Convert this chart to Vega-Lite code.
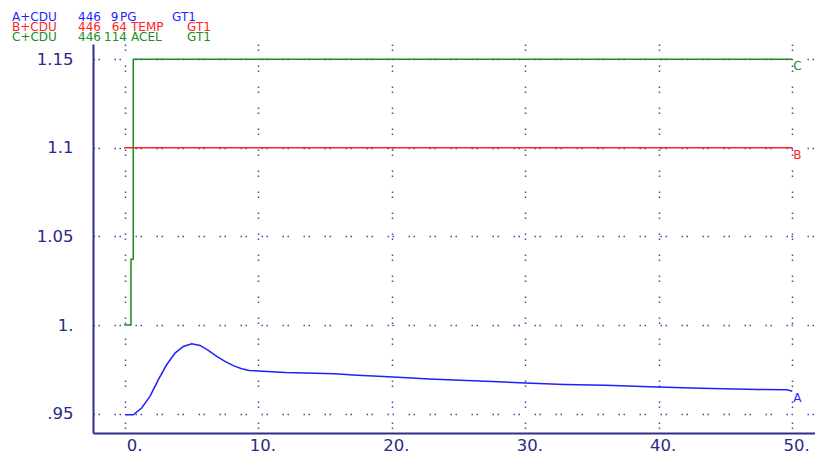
{
  "$schema": "https://vega.github.io/schema/vega-lite/v6.json",
  "width": 722,
  "height": 389,
  "autosize": {"type": "none"},
  "padding": {"left": 93, "top": 44, "right": 0, "bottom": 22},
  "background": "white",
  "config": {"view": {"stroke": null}, "font": "DejaVu Sans", "text": {"font": "DejaVu Sans"}},
  "datasets": {
    "series": [
      {"series": "A", "i": 0, "x": 0, "y": 0.9494},
      {"series": "A", "i": 1, "x": 0.62, "y": 0.9494},
      {"series": "A", "i": 2, "x": 1.25, "y": 0.9532},
      {"series": "A", "i": 3, "x": 1.87, "y": 0.9598},
      {"series": "A", "i": 4, "x": 2.5, "y": 0.9692},
      {"series": "A", "i": 5, "x": 3.12, "y": 0.9776},
      {"series": "A", "i": 6, "x": 3.75, "y": 0.9842},
      {"series": "A", "i": 7, "x": 4.37, "y": 0.9879},
      {"series": "A", "i": 8, "x": 5.0, "y": 0.9895},
      {"series": "A", "i": 9, "x": 5.62, "y": 0.9885},
      {"series": "A", "i": 10, "x": 6.24, "y": 0.9857},
      {"series": "A", "i": 11, "x": 6.87, "y": 0.9823},
      {"series": "A", "i": 12, "x": 7.49, "y": 0.9795},
      {"series": "A", "i": 13, "x": 8.11, "y": 0.9771},
      {"series": "A", "i": 14, "x": 8.74, "y": 0.9754},
      {"series": "A", "i": 15, "x": 9.3, "y": 0.9744},
      {"series": "A", "i": 16, "x": 12, "y": 0.9733},
      {"series": "A", "i": 17, "x": 15.7, "y": 0.9725},
      {"series": "A", "i": 18, "x": 17.4, "y": 0.9717},
      {"series": "A", "i": 19, "x": 19, "y": 0.9711},
      {"series": "A", "i": 20, "x": 20.8, "y": 0.9704},
      {"series": "A", "i": 21, "x": 22.8, "y": 0.9696},
      {"series": "A", "i": 22, "x": 25.1, "y": 0.9688},
      {"series": "A", "i": 23, "x": 27.5, "y": 0.9681},
      {"series": "A", "i": 24, "x": 30, "y": 0.9673},
      {"series": "A", "i": 25, "x": 32.9, "y": 0.9665},
      {"series": "A", "i": 26, "x": 36, "y": 0.966},
      {"series": "A", "i": 27, "x": 39.3, "y": 0.9652},
      {"series": "A", "i": 28, "x": 43.1, "y": 0.9644},
      {"series": "A", "i": 29, "x": 47.4, "y": 0.9637},
      {"series": "A", "i": 30, "x": 49.6, "y": 0.9635},
      {"series": "A", "i": 31, "x": 50, "y": 0.9627},
      {"series": "B", "i": 0, "x": -0.07, "y": 1.1},
      {"series": "B", "i": 1, "x": 50, "y": 1.1},
      {"series": "C", "i": 0, "x": -0.07, "y": 1.0},
      {"series": "C", "i": 1, "x": 0.45, "y": 1.0},
      {"series": "C", "i": 2, "x": 0.45, "y": 1.0372},
      {"series": "C", "i": 3, "x": 0.62, "y": 1.0372},
      {"series": "C", "i": 4, "x": 0.62, "y": 1.15},
      {"series": "C", "i": 5, "x": 50, "y": 1.15}
    ],
    "header": [
      {"series": "A", "c1": "A+CDU", "c2": "446", "c3": "9", "c4": "PG", "c5": "GT1"},
      {"series": "B", "c1": "B+CDU", "c2": "446", "c3": "64", "c4": "TEMP", "c5": "GT1"},
      {"series": "C", "c1": "C+CDU", "c2": "446", "c3": "114", "c4": "ACEL", "c5": "GT1"}
    ]
  },
  "resolve": {"scale": {"y": "independent"}},
  "layer": [
    {
      "layer": [
        {
          "data": {"name": "series"},
          "mark": {"type": "line", "strokeWidth": 1.5, "clip": false},
          "encoding": {
            "x": {
              "field": "x", "type": "quantitative",
              "scale": {"domain": [-2.398, 51.7], "nice": false, "zero": false},
              "axis": {
                "values": [0, 10, 20, 30, 40, 50],
                "labelExpr": "format(datum.value, 'd') + '.'",
                "title": null, "ticks": false,
                "domain": true, "domainColor": "#2e2e8e", "domainWidth": 2,
                "grid": true, "gridColor": "#4a4aa8", "gridWidth": 1.5, "gridDash": [1.5, 3.5, 1.5, 14.5],
                "labelColor": "#2a2a86", "labelFontSize": 16.5, "labelFont": "DejaVu Sans",
                "labelAlign": "right", "labelOffset": 17, "labelPadding": 4,
                "labelFlush": false, "labelOverlap": false, "labelBound": false
              }
            },
            "y": {
              "field": "y", "type": "quantitative",
              "scale": {"domain": [0.9391, 1.1586], "nice": false, "zero": false},
              "axis": {
                "values": [0.95, 1, 1.05, 1.1, 1.15],
                "labelExpr": "datum.value == 1 ? '1.' : (datum.value < 1 ? '.95' : format(datum.value, '.3~f'))",
                "title": null, "ticks": false,
                "domain": true, "domainColor": "#2e2e8e", "domainWidth": 2,
                "grid": true, "gridColor": "#4a4aa8", "gridWidth": 1.5, "gridDash": [1.5, 3.5, 1.5, 14.5],
                "labelColor": "#2a2a86", "labelFontSize": 16.5, "labelFont": "DejaVu Sans",
                "labelPadding": 20, "labelOverlap": false, "labelFlush": false
              }
            },
            "color": {
              "field": "series", "type": "nominal",
              "scale": {"domain": ["A", "B", "C"], "range": ["#1f1fff", "#ff2222", "#1e8c1e"]},
              "legend": null
            },
            "order": {"field": "i", "type": "quantitative"}
          }
        },
        {
          "data": {"name": "series"},
          "transform": [{"filter": "datum.x == 50"}],
          "mark": {"type": "text", "align": "left", "baseline": "top", "dx": 1, "dy": 2, "fontSize": 12},
          "encoding": {
            "x": {"field": "x", "type": "quantitative"},
            "y": {"field": "y", "type": "quantitative"},
            "text": {"field": "series"},
            "color": {"field": "series", "type": "nominal", "legend": null}
          }
        },
        {
          "mark": {"type": "rule", "color": "#2e2e8e", "strokeWidth": 2},
          "encoding": {"y": {"datum": 1.1586, "type": "quantitative"}}
        }
      ]
    },
    {
      "data": {"name": "header"},
      "encoding": {
        "y": {
          "field": "series", "type": "nominal",
          "scale": {"type": "point", "domain": ["A", "B", "C"], "range": [-23.5, -3.5], "padding": 0},
          "axis": null
        },
        "color": {"field": "series", "type": "nominal", "legend": null}
      },
      "layer": [
        {
          "mark": {"type": "text", "align": "left", "baseline": "alphabetic", "fontSize": 12},
          "encoding": {"x": {"datum": -8.467, "type": "quantitative"}, "text": {"field": "c1"}}
        },
        {
          "mark": {"type": "text", "align": "left", "baseline": "alphabetic", "fontSize": 12},
          "encoding": {"x": {"datum": -3.522, "type": "quantitative"}, "text": {"field": "c2"}}
        },
        {
          "transform": [{"filter": "datum.series == 'A'"}],
          "mark": {"type": "text", "align": "right", "baseline": "alphabetic", "fontSize": 12},
          "encoding": {"x": {"datum": -0.487, "type": "quantitative"}, "text": {"field": "c3"}}
        },
        {
          "transform": [{"filter": "datum.series != 'A'"}],
          "mark": {"type": "text", "align": "right", "baseline": "alphabetic", "fontSize": 12},
          "encoding": {"x": {"datum": 0.15, "type": "quantitative"}, "text": {"field": "c3"}}
        },
        {
          "transform": [{"filter": "datum.series == 'A'"}],
          "mark": {"type": "text", "align": "left", "baseline": "alphabetic", "fontSize": 12},
          "encoding": {"x": {"datum": -0.375, "type": "quantitative"}, "text": {"field": "c4"}}
        },
        {
          "transform": [{"filter": "datum.series != 'A'"}],
          "mark": {"type": "text", "align": "left", "baseline": "alphabetic", "fontSize": 12},
          "encoding": {"x": {"datum": 0.45, "type": "quantitative"}, "text": {"field": "c4"}}
        },
        {
          "transform": [{"filter": "datum.series == 'A'"}],
          "mark": {"type": "text", "align": "left", "baseline": "alphabetic", "fontSize": 12},
          "encoding": {"x": {"datum": 3.522, "type": "quantitative"}, "text": {"field": "c5"}}
        },
        {
          "transform": [{"filter": "datum.series != 'A'"}],
          "mark": {"type": "text", "align": "left", "baseline": "alphabetic", "fontSize": 12},
          "encoding": {"x": {"datum": 4.646, "type": "quantitative"}, "text": {"field": "c5"}}
        }
      ]
    }
  ]
}
